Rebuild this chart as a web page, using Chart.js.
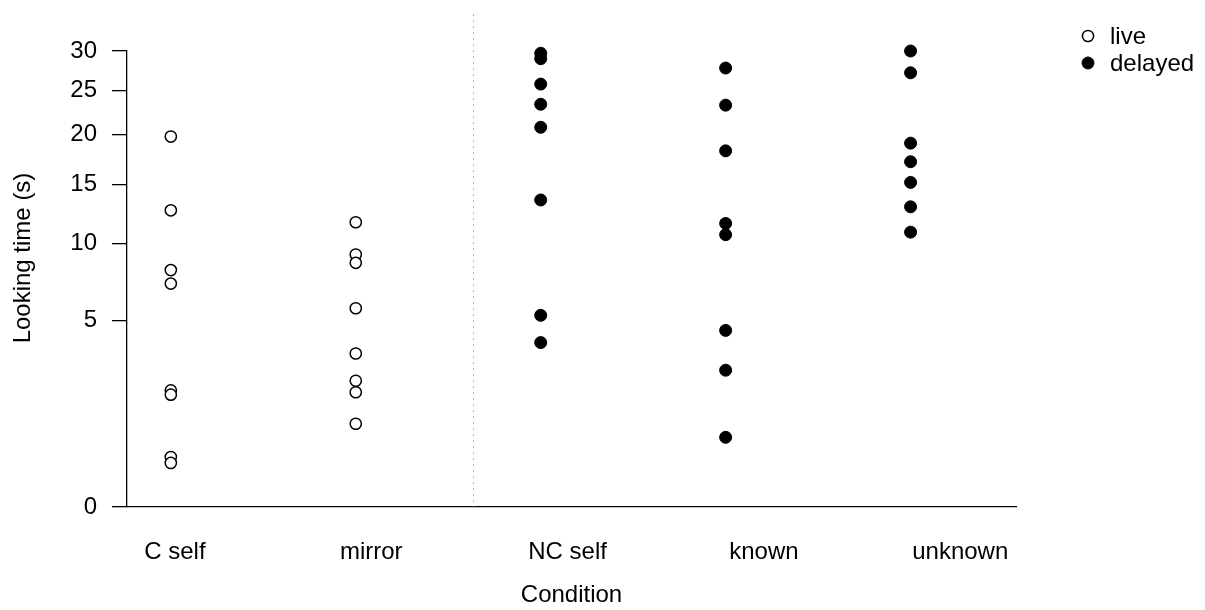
<!DOCTYPE html>
<html>
<head>
<meta charset="utf-8">
<script src="https://cdn.jsdelivr.net/npm/chart.js@4.4.1/dist/chart.umd.min.js"></script>
<style>
  html, body { margin: 0; padding: 0; background: #fff; }
  #wrap { width: 1205px; height: 610px; }
</style>
</head>
<body>
<div id="wrap"><canvas id="chart" width="1205" height="610"></canvas></div>
<script>
// conditions and looking times (s)
const categories = ['C self', 'mirror', 'NC self', 'known', 'unknown'];
const seriesNames = ['live', 'delayed'];
const cSelf = [19.8, 12.7, 8.1, 7.2, 1.96, 1.82, 0.36, 0.28];
const mirror = [11.7, 9.2, 8.6, 5.7, 3.4, 2.3, 1.9, 1.0];
const ncSelf = [29.7, 29.0, 25.8, 23.4, 20.8, 13.6, 5.3, 3.9];
const known = [27.8, 23.3, 18.3, 11.6, 10.7, 4.5, 2.7, 0.7];
const unknown = [30.0, 27.2, 19.1, 17.2, 15.2, 13.0, 10.9];
const yTicks = [0, 5, 10, 15, 20, 25, 30];
const dividerAt = 2.637;   // dotted line between live and delayed groups
const dividerTop = 35;

const FONT = "'Liberation Sans', Arial, Helvetica, sans-serif";

// y axis is square-root scaled
function toPoints(vals, pos){
    return vals.map(v => ({x: pos, y: Math.sqrt(v)}));
}

const liveData = toPoints(cSelf, 1).concat(toPoints(mirror, 2));
const delayedData = toPoints(ncSelf, 3).concat(toPoints(known, 4), toPoints(unknown, 5));

const decor = {
    id: 'decor',
    beforeDatasetsDraw(chart){
        const {ctx, chartArea} = chart;
        const x = chart.scales.x, y = chart.scales.y;
        const px = x.getPixelForValue(dividerAt);
        ctx.save();
        ctx.strokeStyle = '#999';
        ctx.lineWidth = 1;
        ctx.setLineDash([1.5, 4.5]);
        ctx.beginPath();
        ctx.moveTo(px, y.getPixelForValue(Math.sqrt(dividerTop)));
        ctx.lineTo(px, chartArea.bottom);
        ctx.stroke();
        ctx.restore();
    },
    afterDraw(chart){
        const ctx = chart.ctx;
        ctx.save();
        ctx.fillStyle = '#000';
        ctx.font = '24px ' + FONT;
        // y title
        ctx.save();
        ctx.translate(23, 258);
        ctx.rotate(-Math.PI / 2);
        ctx.textAlign = 'center';
        ctx.textBaseline = 'middle';
        ctx.fillText('Looking time (s)', 0, 0);
        ctx.restore();
        // legend
        chart.data.datasets.forEach((ds, i) => {
            const cy = 36 + i * 27;
            ctx.beginPath();
            ctx.arc(1088, cy, ds.pointRadius, 0, Math.PI * 2);
            ctx.fillStyle = ds.backgroundColor;
            ctx.fill();
            ctx.lineWidth = ds.borderWidth;
            ctx.strokeStyle = ds.borderColor;
            ctx.stroke();
            ctx.fillStyle = '#000';
            ctx.textAlign = 'left';
            ctx.textBaseline = 'middle';
            ctx.fillText(ds.label, 1110, cy + 1);
        });
        ctx.restore();
    }
};

new Chart(document.getElementById('chart').getContext('2d'), {
    type: 'scatter',
    data: {
        datasets: [{
            label: seriesNames[0],
            data: liveData,
            backgroundColor: '#fff',
            borderColor: '#000',
            borderWidth: 1.5,
            pointRadius: 5.6,
            xAxisID: 'x',
            yAxisID: 'y'
        }, {
            label: seriesNames[1],
            data: delayedData,
            backgroundColor: '#000',
            borderColor: '#000',
            borderWidth: 1,
            pointRadius: 6,
            xAxisID: 'x',
            yAxisID: 'y'
        }]
    },
    options: {
        responsive: false,
        animation: false,
        clip: false,
        layout: { padding: { top: 51, right: 189, left: 0, bottom: 0 } },
        plugins: {
            legend: { display: false },
            tooltip: { enabled: false }
        },
        scales: {
            x: {
                type: 'linear',
                display: false,
                min: 0.763,
                max: 5.57
            },
            xl: {
                type: 'linear',
                position: 'bottom',
                min: 0.756,
                max: 5.284,
                afterBuildTicks: s => { s.ticks = categories.map((c, i) => ({value: i + 1})); },
                afterFit: s => { s.height = 103; },
                grid: { display: false, drawTicks: false },
                border: { display: true, color: '#000', width: 1.3 },
                ticks: {
                    autoSkip: false,
                    maxRotation: 0,
                    padding: 31,
                    color: '#000',
                    font: { family: FONT, size: 24 },
                    callback: v => categories[Math.round(v) - 1]
                },
                title: {
                    display: true,
                    text: 'Condition',
                    color: '#000',
                    font: { family: FONT, size: 24 },
                    padding: { top: 0, bottom: 0 }
                }
            },
            y: {
                type: 'linear',
                min: 0,
                max: Math.sqrt(30),
                afterBuildTicks: s => { s.ticks = yTicks.map(v => ({value: Math.sqrt(v)})); },
                afterFit: s => { s.width = 127; },
                grid: {
                    display: true,
                    drawOnChartArea: false,
                    drawTicks: true,
                    tickLength: 15,
                    color: '#000',
                    lineWidth: 1.3
                },
                border: { display: true, color: '#000', width: 1.3 },
                ticks: {
                    padding: 15,
                    color: '#000',
                    font: { family: FONT, size: 24 },
                    callback: v => Math.round(v * v)
                }
            }
        }
    },
    plugins: [decor]
});
</script>
</body>
</html>
